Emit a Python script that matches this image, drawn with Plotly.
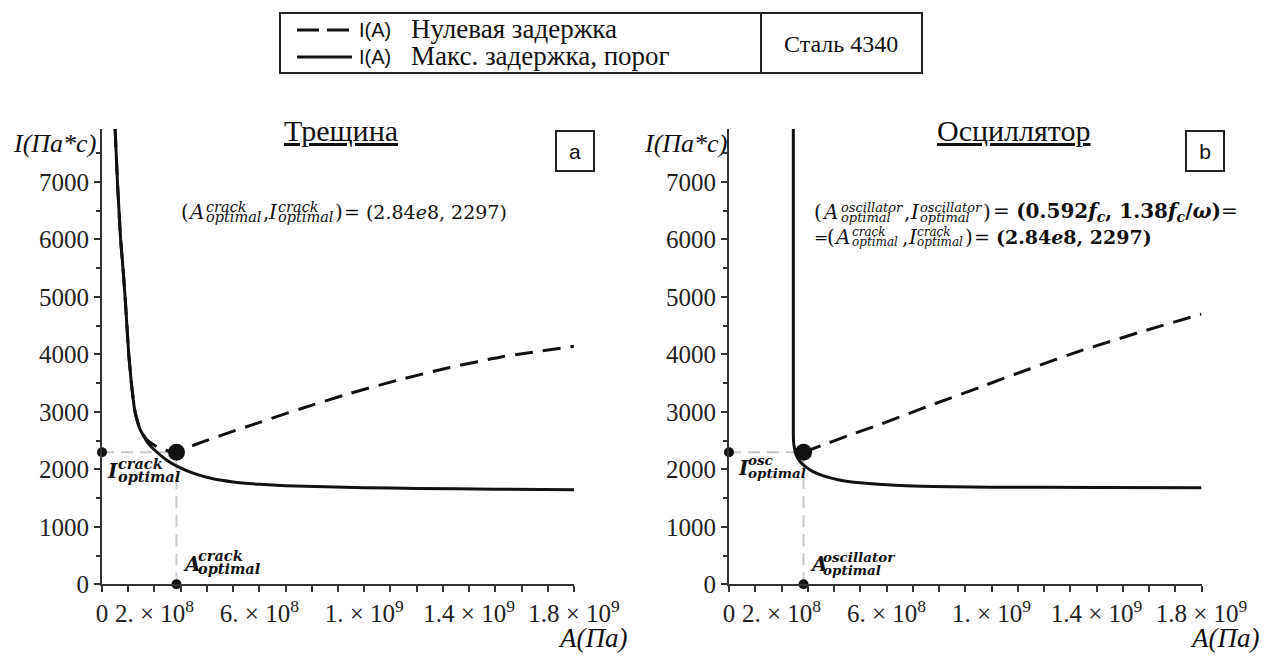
import plotly.graph_objects as go

W, H = 1264, 659
E8 = 1e8

# ---- data (A in units of 1e8 Pa, I in Pa*s) ----
crack_max_A = [0.50, 0.55, 0.60, 0.66, 0.71, 0.80, 0.88, 0.95, 1.02, 1.12, 1.26, 1.45, 1.76, 2.10,
               2.50, 2.97, 3.50, 4.20, 5.00, 6.00, 7.00, 8.50, 10.0, 12.0, 15.0, 18.0]
crack_max_I = [7920, 7400, 6900, 6400, 6000, 5500, 5000, 4500, 4000, 3500, 3000, 2700, 2450, 2297,
               2150, 2030, 1930, 1840, 1780, 1740, 1715, 1695, 1680, 1668, 1655, 1645]

crack_zero_A = [0.50, 0.55, 0.60, 0.66, 0.71, 0.80, 0.88, 0.95, 1.02, 1.12, 1.26, 1.45, 1.70, 2.00,
                2.30, 2.60, 2.84, 3.30, 3.73, 4.60, 5.64, 7.55, 9.45, 11.36, 13.26, 15.17, 18.0]
crack_zero_I = [7920, 7400, 6900, 6400, 6000, 5500, 5000, 4500, 4000, 3500, 3000, 2700, 2520, 2420,
                2350, 2310, 2297, 2385, 2460, 2600, 2760, 3050, 3320, 3560, 3770, 3950, 4140]

osc_max_A = [2.45, 2.45, 2.46, 2.48, 2.55, 2.70, 2.90, 3.20, 3.60, 4.20, 5.00, 6.00, 7.00, 8.50,
             10.0, 14.0, 18.0]
osc_max_I = [7920, 2600, 2480, 2400, 2260, 2140, 2050, 1960, 1885, 1815, 1765, 1730, 1710, 1697,
             1690, 1684, 1680]

osc_zero_A = [2.84, 3.50, 4.50, 5.75, 7.66, 9.57, 11.47, 13.38, 15.90, 18.0]
osc_zero_I = [2297, 2410, 2580, 2780, 3110, 3430, 3750, 4060, 4420, 4700]

opt_A = 2.84
opt_I = 2297

x_tickvals = [0, 2e8, 6e8, 1e9, 1.4e9, 1.8e9]
x_ticktext = ["0", "2. × 10<sup>8</sup>", "6. × 10<sup>8</sup>", "1. × 10<sup>9</sup>",
              "1.4 × 10<sup>9</sup>", "1.8 × 10<sup>9</sup>"]
y_tickvals = [0, 1000, 2000, 3000, 4000, 5000, 6000, 7000]

SERIF = "Liberation Serif"
MATH = "DejaVu Serif"
INK = "#111111"
GUIDE = "#c9c9c9"

fig = go.Figure()


def add_panel(xa, ya, zero_A, zero_I, max_A, max_I):
    # guide lines to the optimum
    fig.add_trace(go.Scatter(x=[0, opt_A * E8], y=[opt_I, opt_I], mode="lines",
                             line=dict(color=GUIDE, width=2, dash="12px,7px"),
                             xaxis=xa, yaxis=ya, hoverinfo="skip"))
    fig.add_trace(go.Scatter(x=[opt_A * E8, opt_A * E8], y=[0, opt_I], mode="lines",
                             line=dict(color=GUIDE, width=2, dash="12px,7px"),
                             xaxis=xa, yaxis=ya, hoverinfo="skip"))
    # zero-delay curve
    fig.add_trace(go.Scatter(x=[a * E8 for a in zero_A], y=zero_I, mode="lines",
                             line=dict(color=INK, width=3, dash="18px,10px", shape="spline", smoothing=0.5),
                             xaxis=xa, yaxis=ya))
    # max-delay curve
    fig.add_trace(go.Scatter(x=[a * E8 for a in max_A], y=max_I, mode="lines",
                             line=dict(color=INK, width=3, shape="spline", smoothing=0.5),
                             xaxis=xa, yaxis=ya))
    # projections on the axes and optimum point
    fig.add_trace(go.Scatter(x=[0, opt_A * E8], y=[opt_I, 0], mode="markers",
                             marker=dict(color=INK, size=10), cliponaxis=False,
                             xaxis=xa, yaxis=ya))
    fig.add_trace(go.Scatter(x=[opt_A * E8], y=[opt_I], mode="markers",
                             marker=dict(color=INK, size=17), cliponaxis=False,
                             xaxis=xa, yaxis=ya))


add_panel("x", "y", crack_zero_A, crack_zero_I, crack_max_A, crack_max_I)
add_panel("x2", "y2", osc_zero_A, osc_zero_I, osc_max_A, osc_max_I)

y_dom = [1 - 584.3 / H, 1 - 129 / H]
axis_common = dict(showgrid=False, zeroline=False, showline=True, linecolor="#333333", linewidth=2,
                   automargin=False,
                   ticks="outside", ticklen=6, tickwidth=1.5, tickcolor="#333333",
                   tickfont=dict(family=SERIF, size=25, color="#222222"))

xaxis_common = dict(axis_common, range=[0, 1.8e9], tickmode="array", tickvals=x_tickvals,
                    ticktext=x_ticktext, ticklabelstandoff=0,
                    minor=dict(dtick=1e8, tick0=0, ticks="outside", ticklen=6, tickwidth=1.5,
                               tickcolor="#333333"))
yaxis_common = dict(axis_common, range=[0, 7920], tickmode="array", tickvals=y_tickvals,
                    minor=dict(dtick=500, tick0=0, ticks="outside", ticklen=4, tickwidth=1.5,
                               tickcolor="#333333"))

fig.update_layout(
    width=W, height=H, margin=dict(l=0, r=0, t=0, b=0, pad=0, autoexpand=False),
    paper_bgcolor="white", plot_bgcolor="white", showlegend=False,
    xaxis=dict(xaxis_common, domain=[102 / W, 574 / W], anchor="y"),
    yaxis=dict(yaxis_common, domain=y_dom, anchor="x"),
    xaxis2=dict(xaxis_common, domain=[729 / W, 1201.5 / W], anchor="y2"),
    yaxis2=dict(yaxis_common, domain=y_dom, anchor="x2"),
)

ann = []
shapes = []


def txt(x, y, s, size, family=MATH, xanchor="left", color=INK):
    ann.append(dict(xref="paper", yref="paper", x=x / W, y=1 - y / H, text=s, showarrow=False,
                    xanchor=xanchor, yanchor="middle", borderpad=0,
                    font=dict(family=family, size=size, color=color)))


def stack(x, y, sup, sub, size, gap, bold=False):
    b0, b1 = ("<b>", "</b>") if bold else ("", "")
    txt(x, y - gap / 2, f"{b0}<i>{sup}</i>{b1}", size)
    txt(x, y + gap / 2, f"{b0}<i>{sub}</i>{b1}", size)


# titles and panel tags
txt(341, 130, "<u>Трещина</u>", 30, SERIF, "center")
txt(1014, 130, "<u>Осциллятор</u>", 30, SERIF, "center")
for cx, letter in [(575, "a"), (1205, "b")]:
    ann.append(dict(xref="paper", yref="paper", x=cx / W, y=1 - 151 / H, text=letter, showarrow=False,
                    xanchor="center", yanchor="middle", width=36, height=38,
                    bordercolor="#222222", borderwidth=2, borderpad=0,
                    font=dict(family="Liberation Sans", size=21, color=INK)))

# axis titles
for x0 in (12, 643):
    txt(x0, 143, "<i>I(Па*с)</i>", 26, SERIF)
for x1 in (628, 1260):
    txt(x1, 638, "<i>A(Па)</i>", 27, SERIF, "right")

# left formula
y0 = 212
txt(180, y0, "(", 20)
txt(187, y0, "<i>A</i>", 20)
stack(205, y0, "crack", "optimal", 14.5, 11)
txt(262, y0, ",", 20)
txt(267, y0, "<i>I</i>", 20)
stack(277, y0, "crack", "optimal", 14.5, 11)
txt(334, y0, ")", 20)
txt(343, y0, "= (2.84<i>e</i>8, 2297)", 19)

# right formula, two lines
y1, y2 = 212, 237
txt(813, y1, "(", 20)
txt(821, y1, "<i>A</i>", 20)
stack(840, y1, "oscillator", "optimal", 13, 10)
txt(903, y1, ",", 20)
txt(909, y1, "<i>I</i>", 20)
stack(919, y1, "oscillator", "optimal", 13, 10)
txt(982, y1, ")", 20)
txt(992, y1, "= <b>(0.592<i>f<sub>c</sub></i>, 1.38<i>f<sub>c</sub></i>/<i>ω</i>)</b>=", 20)

txt(813, y2, "=", 17)
txt(826, y2, "(", 20)
txt(833, y2, "<i>A</i>", 20)
stack(851, y2, "crack", "optimal", 12, 10)
txt(901, y2, ",", 20)
txt(907, y2, "<i>I</i>", 20)
stack(916, y2, "crack", "optimal", 12, 10)
txt(964, y2, ")", 20)
txt(973, y2, "= <b>(2.84<i>e</i>8, 2297)</b>", 19)

# optimum labels near the axes
txt(106, 471, "<b><i>I</i></b>", 20)
stack(117, 470, "crack", "optimal", 14.5, 13, bold=True)
txt(182, 564, "<b><i>A</i></b>", 20)
stack(197, 562, "crack", "optimal", 14.5, 13, bold=True)

txt(737, 468, "<b><i>I</i></b>", 20)
stack(747, 466, "osc", "optimal", 13.5, 13, bold=True)
txt(809, 564, "<b><i>A</i></b>", 20)
stack(822, 563, "oscillator", "optimal", 13.5, 13, bold=True)

# legend table
shapes.append(dict(type="rect", xref="paper", yref="paper", x0=280 / W, x1=922 / W,
                   y0=1 - 73 / H, y1=1 - 13 / H, line=dict(color="#222222", width=2)))
shapes.append(dict(type="line", xref="paper", yref="paper", x0=761 / W, x1=761 / W,
                   y0=1 - 73 / H, y1=1 - 13 / H, line=dict(color="#222222", width=2)))
shapes.append(dict(type="line", xref="paper", yref="paper", x0=297 / W, x1=352 / W,
                   y0=1 - 30 / H, y1=1 - 30 / H, line=dict(color=INK, width=3, dash="22px,8px")))
shapes.append(dict(type="line", xref="paper", yref="paper", x0=297 / W, x1=352 / W,
                   y0=1 - 57 / H, y1=1 - 57 / H, line=dict(color=INK, width=3)))
txt(358, 30, "I(A)", 20, "Liberation Sans")
txt(410, 29, "Нулевая задержка", 27, SERIF)
txt(358, 57, "I(A)", 20, "Liberation Sans")
txt(410, 56, "Макс. задержка, порог", 27, SERIF)
txt(841, 44, "Сталь 4340", 24, SERIF, "center")

fig.update_layout(annotations=ann, shapes=shapes)
fig.write_html("out.html", config={"responsive": False, "displayModeBar": False})

# page without default body margin so the figure fills the window exactly
with open("out.html", encoding="utf-8") as f:
    page = f.read()
page = page.replace("<head>", "<head><style>html,body{margin:0;padding:0;overflow:hidden}</style>", 1)
with open("out.html", "w", encoding="utf-8") as f:
    f.write(page)
